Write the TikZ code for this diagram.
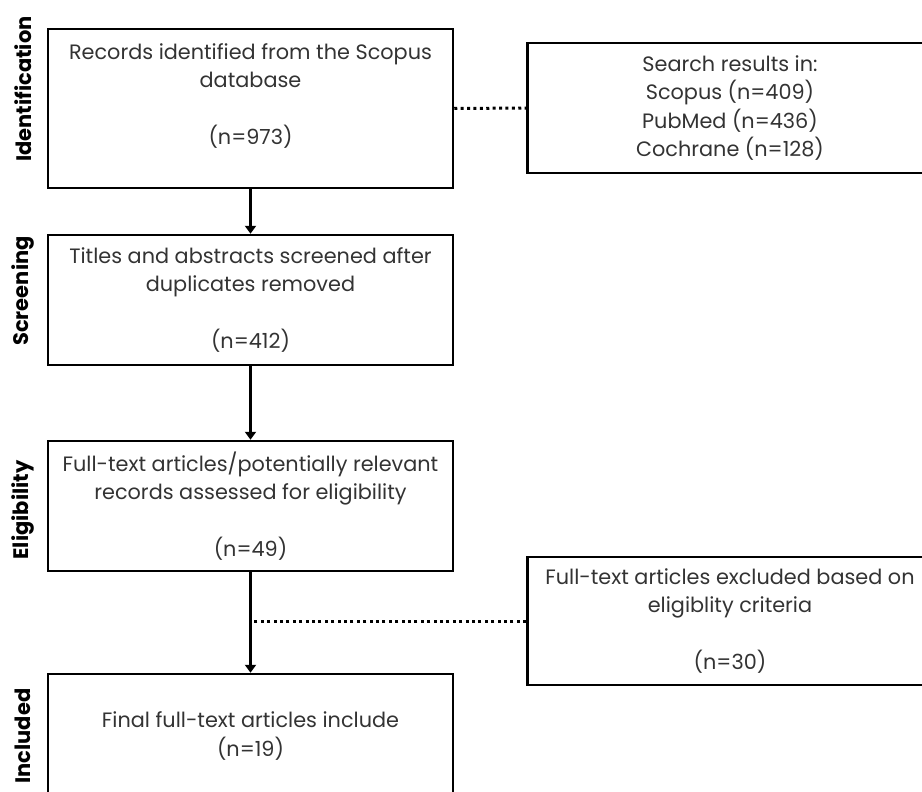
\documentclass[tikz,border=0pt]{standalone}
\usepackage{fontspec}
\setmainfont{Poppins}
\usepackage{xcolor}
\usepackage{tikz}
\usetikzlibrary{arrows.meta, positioning}

\definecolor{boxtext}{HTML}{333333}

\begin{document}
\begin{tikzpicture}[x=1pt, y=-1pt,
	stage/.style={draw, line width=2.5pt, minimum width=405pt, align=center,
		text=boxtext, font=\fontsize{20.8}{28.5}\selectfont, inner sep=0pt},
	side/.style={rotate=90, font=\bfseries\fontsize{21}{24}\selectfont},
	flow/.style={line width=2.5pt, -{Triangle[width=11pt, length=8pt]}},
	link/.style={line width=3pt, dash pattern=on 3pt off 3.4pt}]
	\clip (0, 0) rectangle (922, 792);
	% Boxes:
	\node[stage, minimum height=159pt](ident) at (250.5, 108.5){Records identified from the Scopus\\database\\~\\(n=973)\\~};
	\node[stage, minimum height=130pt](search) at (730, 108){Search results in:\\Scopus (n=409)\\PubMed (n=436)\\Cochrane (n=128)};
	\node[stage, minimum height=130pt](screen) at (250.5, 300){Titles and abstracts screened after\\duplicates removed\\~\\(n=412)};
	\node[stage, minimum height=130pt](elig) at (250.5, 506){Full-text articles/potentially relevant\\records assessed for eligibility\\~\\(n=49)};
	\node[stage, minimum height=128pt](excl) at (730, 621){Full-text articles excluded based on\\eligiblity criteria\\~\\(n=30)};
	\node[stage, minimum height=124pt](incl) at (250.5, 736){Final full-text articles include\\(n=19)};
	% Stage labels:
	\node[side](lId) at (23, 89){Identification};
	\node[side](lScr) at (23, 291){Screening};
	\node[side](lElig) at (23, 510){Eligibility};
	\node[side](lIncl) at (23, 736){Included};
	% Connectors:
	\draw[flow] (ident) -- (screen);
	\draw[flow] (screen) -- (elig);
	\draw[flow] (elig) -- (incl);
	\coordinate (split) at (elig.south |- excl.west);
	\draw[link] (ident.east) -- (search.west);
	\draw[link] (excl.west) -- (split);
\end{tikzpicture}
\end{document}
